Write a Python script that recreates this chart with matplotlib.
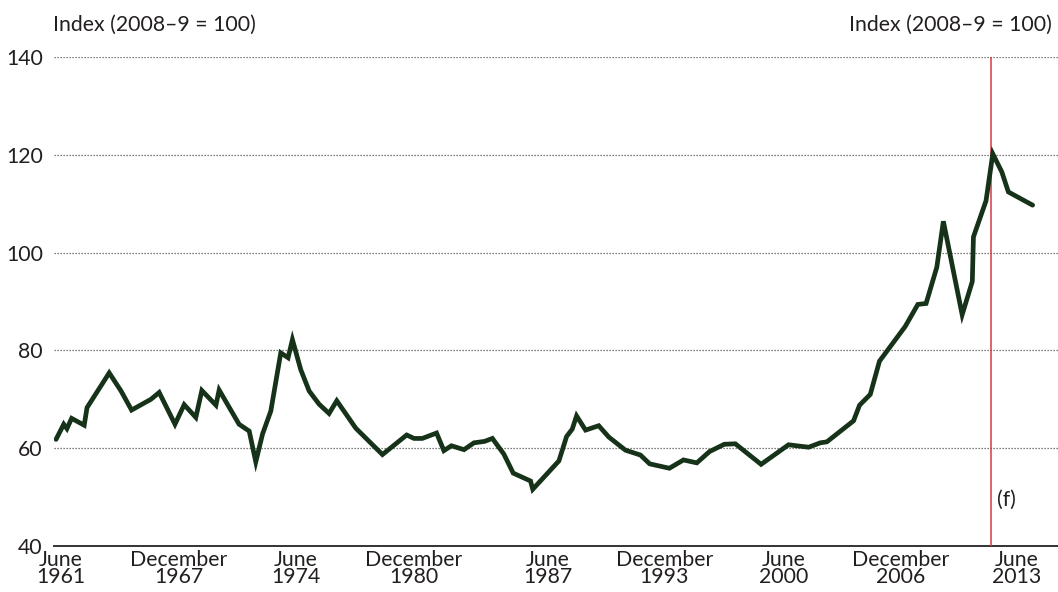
"""Index chart, June 1961 to June 2013 (2008-9 = 100)."""
import matplotlib
matplotlib.use('Agg')
import matplotlib.pyplot as plt

plt.rcParams['font.family'] = ['Lato', 'DejaVu Sans']

YEARS = [
    1961.50, 1961.91, 1962.08, 1962.33, 1963.00, 1963.15, 1964.33, 1964.96,
    1965.52, 1966.55, 1966.99, 1967.83, 1968.32, 1968.94, 1969.26, 1970.01,
    1970.18, 1971.24, 1971.78, 1972.13, 1972.49, 1972.93, 1973.46, 1973.85,
    1974.08, 1974.52, 1974.97, 1975.50, 1976.03, 1976.44, 1977.45, 1978.87,
    1980.16, 1980.55, 1980.99, 1981.75, 1982.14, 1982.54, 1983.21, 1983.74,
    1984.31, 1984.72, 1985.33, 1985.83, 1986.75, 1986.87, 1988.26, 1988.67,
    1988.97, 1989.20, 1989.68, 1990.38, 1990.91, 1991.80, 1992.60, 1993.09,
    1994.14, 1994.89, 1995.60, 1996.27, 1997.06, 1997.65, 1999.02, 2000.48,
    2001.55, 2002.17, 2002.52, 2003.94, 2004.26, 2004.83, 2005.32, 2006.69,
    2007.36, 2007.80, 2008.37, 2008.72, 2009.72, 2010.26, 2010.32, 2010.99,
    2011.35, 2011.83, 2012.18, 2013.47,
]
INDEX = [
    61.8, 64.9, 64.0, 66.1, 64.7, 68.3, 75.4, 71.7,
    67.8, 70.0, 71.4, 64.9, 68.9, 66.3, 71.8, 68.8,
    71.9, 64.9, 63.5, 57.2, 62.9, 67.6, 79.5, 78.5,
    82.2, 76.1, 71.7, 69.0, 67.1, 69.7, 64.1, 58.7,
    62.7, 62.0, 62.0, 63.1, 59.5, 60.5, 59.7, 61.1,
    61.4, 62.0, 58.8, 54.9, 53.3, 51.6, 57.4, 62.4,
    63.9, 66.6, 63.7, 64.6, 62.3, 59.6, 58.6, 56.8,
    55.9, 57.6, 57.0, 59.3, 60.8, 60.9, 56.7, 60.7,
    60.2, 61.1, 61.3, 65.6, 68.8, 71.0, 77.8, 84.9,
    89.4, 89.6, 97.0, 106.4, 87.3, 94.1, 103.2, 110.6,
    120.2, 116.5, 112.4, 109.7,
]

TICK_POS = [1961.77, 1968.04, 1974.26, 1980.53, 1987.65,
            1993.87, 2000.20, 2006.42, 2012.64]
TICK_LABELS = ['June\n1961', 'December\n1967', 'June\n1974', 'December\n1980',
               'June\n1987', 'December\n1993', 'June\n2000', 'December\n2006',
               'June\n2013']
Y_TICKS = [40, 60, 80, 100, 120, 140]
FORECAST_START = 2011.24

LINE_COLOR = '#163219'
RED = '#d53a45'
TEXT_COLOR = '#231f20'
FS = 15.3

fig = plt.figure(figsize=(10.58, 5.92), dpi=100)
ax = fig.add_axes([0.051, 0.0777, 0.949, 0.826])

ax.plot(YEARS, INDEX, color=LINE_COLOR, linewidth=3.4,
        solid_joinstyle='miter', solid_capstyle='round', zorder=4)
ax.axvline(FORECAST_START, color=RED, linewidth=1.1, zorder=3)
ax.text(FORECAST_START + 0.34, 49.4, '(f)', fontsize=FS, color=TEXT_COLOR,
        ha='left', va='center')

ax.set_xlim(1961.39, 2014.82)
ax.set_ylim(40, 140)
ax.set_yticks(Y_TICKS)
ax.set_xticks(TICK_POS)
ax.set_xticklabels(TICK_LABELS, linespacing=0.78)

for y in Y_TICKS[1:]:
    ax.axhline(y, color='#555555', linewidth=0.9, linestyle=(0, (1, 1.4)),
               zorder=1)

for side in ['left', 'right', 'top']:
    ax.spines[side].set_visible(False)
ax.spines['bottom'].set_color('#333333')
ax.spines['bottom'].set_linewidth(1.4)

ax.tick_params(axis='both', length=0, labelsize=FS, colors=TEXT_COLOR)
ax.tick_params(axis='y', pad=8)
ax.tick_params(axis='x', pad=3)

fig.text(0.050, 0.958, 'Index (2008–9 = 100)', fontsize=FS, color=TEXT_COLOR,
         ha='left', va='center')
fig.text(0.994, 0.958, 'Index (2008–9 = 100)', fontsize=FS, color=TEXT_COLOR,
         ha='right', va='center')

fig.savefig('out.png', dpi=100)
